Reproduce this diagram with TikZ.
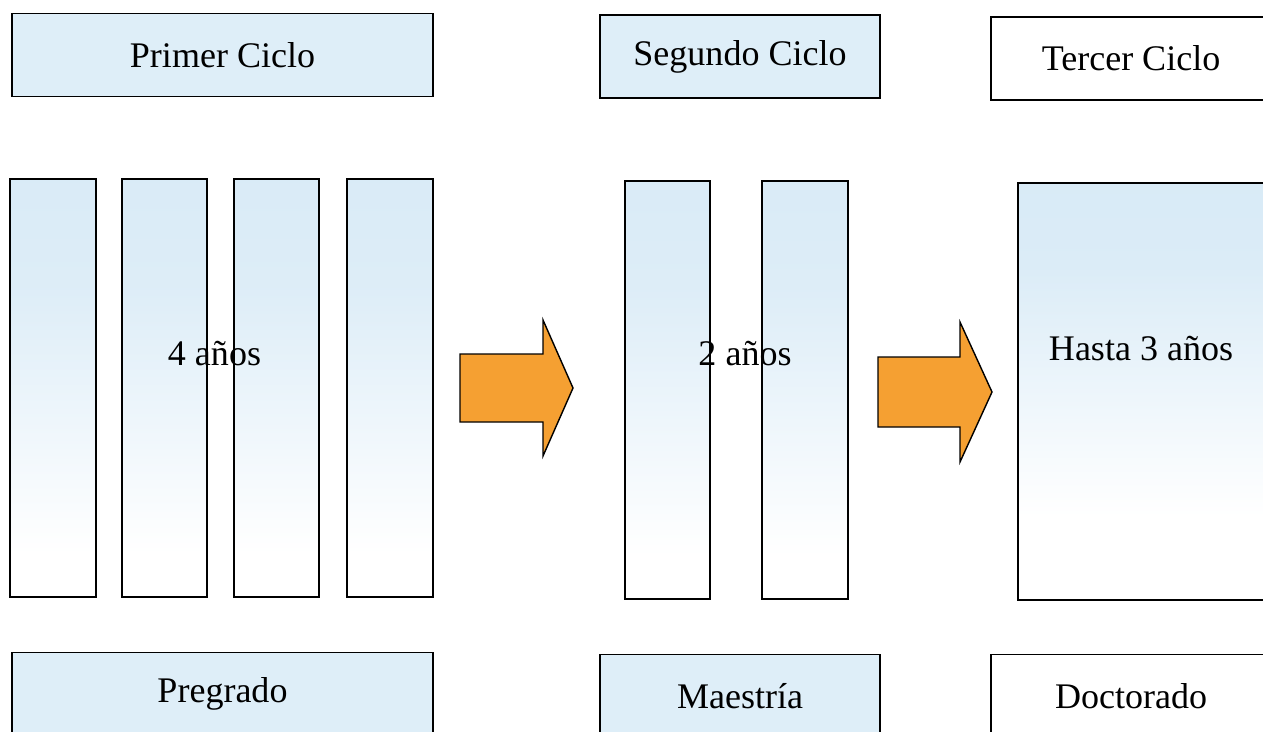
\documentclass[tikz,border=0pt]{standalone}
\usepackage{fontspec}
\setmainfont{Liberation Serif}
\definecolor{cicloblue}{RGB}{222,238,248}
\definecolor{barblue}{RGB}{210,231,245}
\definecolor{flechaorange}{RGB}{245,160,50}
\pgfdeclareverticalshading{barfade}{100bp}{color(0bp)=(white); color(30bp)=(white); color(62bp)=(barblue!75); color(100bp)=(barblue)}
\pgfdeclareverticalshading{bigfade}{100bp}{color(0bp)=(white); color(35bp)=(white); color(65bp)=(barblue!80); color(100bp)=(barblue)}

\begin{document}
\begin{tikzpicture}[x=0.02cm, y=-0.02cm, thick,
    ciclo/.style = {draw, fill=cicloblue, inner sep=0pt, minimum height=1.66cm, font=\fontsize{20.5}{24}\selectfont},
    barra/.style = {draw, shading=barfade, inner sep=0pt, minimum width=1.7cm, minimum height=8.34cm},
    anos/.style = {anchor=base, inner sep=0pt, font=\fontsize{20.5}{24}\selectfont},
    flecha/.style = {draw, fill=flechaorange, line join=miter}]
        \useasboundingbox (0,0) rectangle (1263,731);
        % ciclos arriba
        \node[ciclo, minimum width=8.42cm] (primer) at (222.5,55) {Primer Ciclo};
        \node[ciclo, minimum width=5.6cm] (segundo) at (740,56.5) {Segundo Ciclo};
        \node[ciclo, fill=white, minimum width=5.6cm] (tercer) at (1131,58.5) {Tercer Ciclo};
        % barras
        \foreach \i/\x in {1/53,2/164.5,3/276.5,4/390}
            \node[barra] (b\i) at (\x,388) {};
        \node[barra] (m1) at (667.5,390) {};
        \node[barra] (m2) at (805,390) {};
        \node[barra, shading=bigfade, minimum width=5cm] (doc) at (1143,391.5) {};
        \node[anos] (t1) at (214.5,365) {4 años};
        \node[anos] (t2) at (745,365) {2 años};
        \node[anos] (t3) at (1141,360) {Hasta 3 años};
        \foreach \n in {b1,b2,b3,b4,m1,m2,doc}
            \draw (\n.north west) rectangle (\n.south east);
        % flechas
        \draw[flecha] (460,354) -- (543,354) -- (543,320) -- (573,388) -- (543,456) -- (543,422) -- (460,422) -- cycle;
        \draw[flecha] (878,357) -- (960,357) -- (960,322) -- (992,392) -- (960,462) -- (960,427) -- (878,427) -- cycle;
        % ciclos abajo
        \node[ciclo, minimum width=8.42cm] (pregrado) at (222.5,694) {Pregrado};
        \node[ciclo, minimum width=5.6cm] (maestria) at (740,696) {Maestría};
        \node[ciclo, fill=white, minimum width=5.6cm] (doctorado) at (1131,696) {Doctorado};
    \end{tikzpicture}
\end{document}
